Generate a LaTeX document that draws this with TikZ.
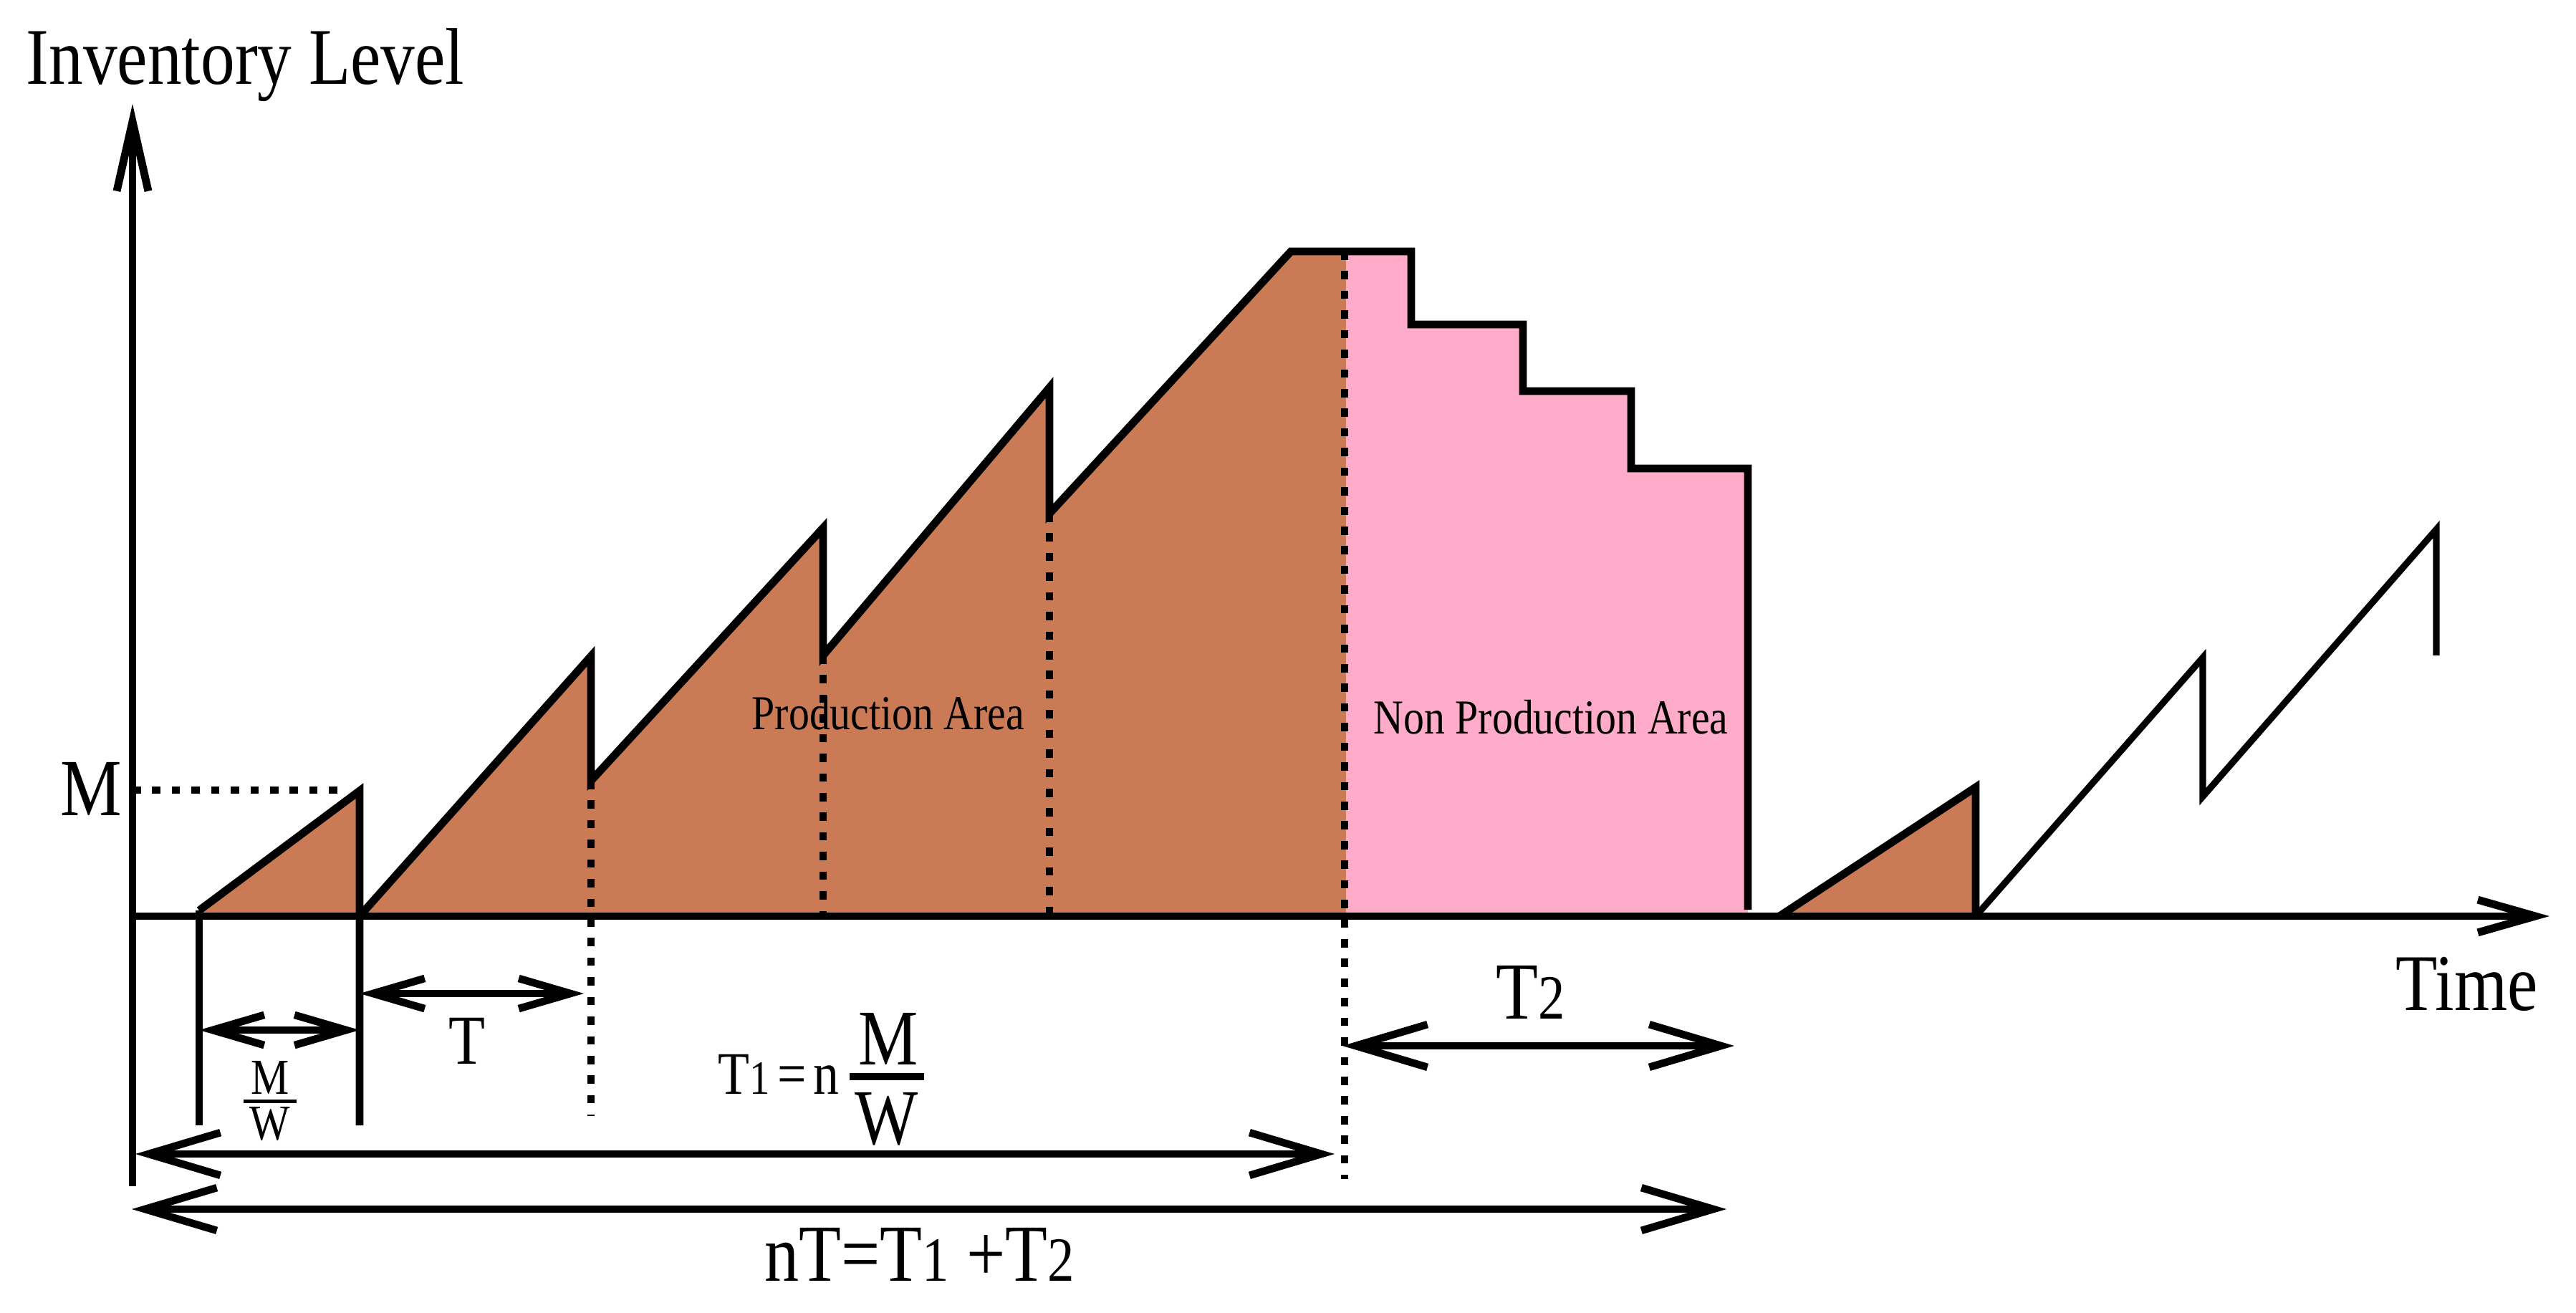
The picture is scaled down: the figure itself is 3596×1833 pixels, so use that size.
\documentclass[tikz,border=0pt]{standalone}
\usepackage{fontspec}
\setmainfont{Liberation Serif}[FakeStretch=0.85]
\usetikzlibrary{arrows.meta}
\definecolor{prodcol}{HTML}{CB7A56}
\definecolor{nonprodcol}{HTML}{FFACCB}
\newcommand\fsz[1]{\fontsize{#1}{#1}\selectfont}
\begin{document}
\begin{tikzpicture}[x=0.01cm,y=-0.01cm,
  curve/.style={line width=3.1pt, line join=miter},
  thincurve/.style={line width=2.6pt, line join=miter},
  dotline/.style={line width=2.6pt, dash pattern=on 3.3pt off 4.5pt},
  shortdim/.style={line width=3pt, {Straight Barb[length=20.5pt,width=12pt]}-{Straight Barb[length=20.5pt,width=12pt]}},
  longdim/.style={line width=3pt, {Straight Barb[length=28.5pt,width=17pt]}-{Straight Barb[length=28.5pt,width=17pt]}},
  lbl/.style={inner sep=0pt, anchor=base west},
  clbl/.style={inner sep=0pt, anchor=base},
  fraclbl/.style={inner sep=0pt, anchor=base, text height=0.66em, text depth=0pt}
]
\path[use as bounding box] (0,0) rectangle (3596,1833);

% ---- key coordinates
\coordinate (O) at (185,1279);
\coordinate (ytop) at (185,145);
\coordinate (ybot) at (185,1656);
\coordinate (xend) at (3559,1279);

% ---- fills
\fill[prodcol] (278,1279) -- (278,1271) -- (502,1104) -- (502,1279) -- cycle;
\fill[prodcol] (502,1279) -- (825,916) -- (825,1090) -- (1149,737) -- (1149,915)
  -- (1465,541) -- (1465,717) -- (1802,351) -- (1879,351) -- (1879,1279) -- cycle;
\fill[nonprodcol] (1879,351) -- (1970,351) -- (1970,453) -- (2126,453) -- (2126,546)
  -- (2277,546) -- (2277,654) -- (2440,654) -- (2440,1279) -- (1879,1279) -- cycle;
\fill[prodcol] (2484,1279) -- (2758,1099) -- (2758,1279) -- cycle;

% ---- dotted guide lines
\draw[dotline] (185,1103) -- (479,1103);
\draw[dotline] (825,1090) -- (825,1558);
\draw[dotline] (1149,915) -- (1149,1279);
\draw[dotline] (1465,717) -- (1465,1279);
\draw[dotline] (1877,351) -- (1877,1646);

% ---- inventory curve
\draw[curve] (278,1271) -- (502,1104) -- (502,1571);
\draw[curve] (278,1271) -- (278,1571);
\draw[curve] (502,1279) -- (825,916) -- (825,1090) -- (1149,737) -- (1149,915)
  -- (1465,541) -- (1465,717) -- (1802,351) -- (1970,351) -- (1970,453)
  -- (2126,453) -- (2126,546) -- (2277,546) -- (2277,654) -- (2440,654) -- (2440,1270);
\draw[curve] (2484,1279) -- (2758,1099) -- (2758,1279);
\draw[thincurve] (2758,1279) -- (3075,918) -- (3075,1112) -- (3401,739) -- (3401,915);

% ---- axes
\draw[line width=3.1pt, -{Straight Barb[length=27.6pt,width=12.5pt]}] (ybot) -- (ytop);
\draw[line width=3.1pt, -{Straight Barb[length=22.8pt,width=13pt]}] (O) -- (xend);

% ---- dimension arrows
\coordinate (mwL) at (278,1438);  \coordinate (mwR) at (502,1438);
\coordinate (tL) at (502,1387);   \coordinate (tR) at (815,1387);
\coordinate (t1L) at (189,1611);  \coordinate (t1R) at (1863,1611);
\coordinate (ntL) at (184,1688);  \coordinate (ntR) at (2410,1688);
\coordinate (t2L) at (1874,1460); \coordinate (t2R) at (2421,1460);
\draw[shortdim] (mwL) -- (mwR);
\draw[shortdim] (tL) -- (tR);
\draw[longdim] (t1L) -- (t1R);
\draw[longdim] (ntL) -- (ntR);
\draw[longdim] (t2L) -- (t2R);

% ---- labels
\node[lbl, font=\fsz{31.9pt}] (invlabel) at (36,117) {Inventory Level};
\node[lbl, font=\fsz{32.2pt}] (mlabel) at (84,1138) {M};
\node[lbl, font=\fsz{31.9pt}] (timelabel) at (3344,1410) {Time};
\node[clbl, font=\fsz{27.9pt}] (tlabel) at (652,1485) {T};
\node[lbl, font=\fsz{32.2pt}] (t2label) at (2088,1422) {T{\fsz{25pt}2}};
\node[lbl, font=\fsz{32.2pt}] (ntlabel) at (1067,1788) {nT=T{\fsz{25pt}1} +T{\fsz{25pt}2}};
\node[lbl, font=\fsz{19.35pt}] (prodlabel) at (1049,1018) {Production Area};
\node[lbl, font=\fsz{19.35pt}] (nonprodlabel) at (1917,1024) {Non Production Area};

% small fraction M/W (one node)
\node[clbl, font=\fsz{20pt}] (mwlabel) at (377,1556)
  {${\makebox[21pt]{M}\above 1.4pt\makebox[21pt]{W}}$};

% T1 = n M/W
\node[lbl, font=\fsz{24pt}, text height=0.66em, text depth=0pt] (t1label) at (1002,1527)
  {T{\fsz{19pt}1}\hspace{0.12em}=\hspace{0.12em}n};
\node[fraclbl, font=\fsz{31.3pt}] (bgnum) at (1240,1486) {M};
\node[fraclbl, font=\fsz{31.3pt}] (bgden) at (1238,1597) {W};
\draw[line width=2.8pt] (1186,1503) -- (1290,1503);
\end{tikzpicture}
\end{document}
